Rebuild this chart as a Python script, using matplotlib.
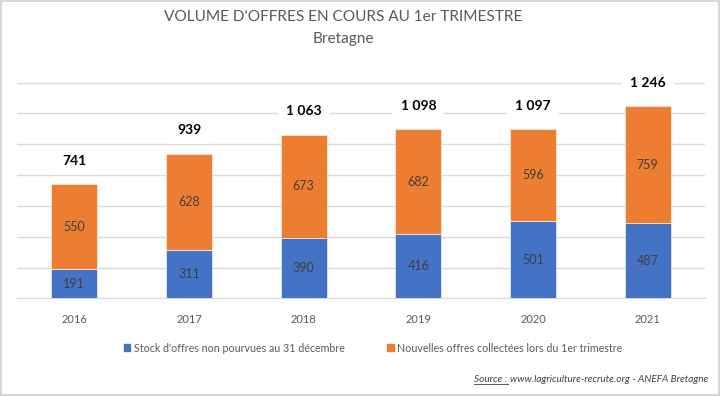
import matplotlib
matplotlib.use("Agg")
import matplotlib.pyplot as plt
from matplotlib.patches import Rectangle
from matplotlib.lines import Line2D

plt.rcParams['font.family'] = ['Lato', 'DejaVu Sans']

years = ["2016", "2017", "2018", "2019", "2020", "2021"]
stock = [191, 311, 390, 416, 501, 487]
nouvelles = [550, 628, 673, 682, 596, 759]
totals = [s + n for s, n in zip(stock, nouvelles)]

title = "VOLUME D'OFFRES EN COURS AU 1er TRIMESTRE"
subtitle = "Bretagne"
legend_labels = ["Stock d'offres non pourvues au 31 décembre",
                 "Nouvelles offres collectées lors du 1er trimestre"]

BLUE = "#4472C4"
ORANGE = "#ED7D31"

fig = plt.figure(figsize=(7.2, 3.96), dpi=100)
ax = fig.add_axes([17/720, 1-298.3/396, (705-17)/720, (298.3-82.7)/396])

x = list(range(len(years)))
b1 = ax.bar(x, stock, width=0.4, color=BLUE, edgecolor='white', linewidth=0.4, zorder=3)
b2 = ax.bar(x, nouvelles, width=0.4, bottom=stock, color=ORANGE, edgecolor='white', linewidth=0.4, zorder=3)

ax.bar_label(b1, labels=[str(v) for v in stock], label_type='center', color='#404040', fontsize=9)
ax.bar_label(b2, labels=[str(v) for v in nouvelles], label_type='center', color='#404040', fontsize=9)

for xi, t in zip(x, totals):
    ax.annotate(f"{t:,}".replace(",", "\u00a0"), (xi, t), xytext=(0, 17), textcoords='offset points',
                ha='center', va='center', fontsize=10, fontweight='bold', color='black',
                bbox=dict(boxstyle='square,pad=0.6', fc='white', ec='none'), zorder=4)

ax.set_ylim(0, 1400)
ax.set_xlim(-0.5, 5.5)
ax.set_yticks(range(0, 1401, 200))
ax.yaxis.grid(True, color='#D9D9D9', linewidth=1, zorder=0)
ax.tick_params(axis='y', left=False, labelleft=False)
ax.tick_params(axis='x', bottom=False, labelsize=8, labelcolor='#595959', pad=8)
ax.set_xticks(x)
ax.set_xticklabels(years)
for s in ['top', 'right', 'left']:
    ax.spines[s].set_visible(False)
ax.spines['bottom'].set_color('#D9D9D9')
ax.set_axisbelow(True)

fig.text(343/720, 1-17/396, title, ha='center', va='center', fontsize=11.1, color='#595959')
fig.text(343/720, 1-39/396, subtitle, ha='center', va='center', fontsize=11.1, color='#595959')

handles = [Rectangle((0, 0), 1, 1, color=BLUE), Rectangle((0, 0), 1, 1, color=ORANGE)]
fig.legend(handles, legend_labels, loc='center', bbox_to_anchor=(373/720, 1-348/396), ncol=2,
           frameon=False, fontsize=7.7, handlelength=0.6, handleheight=0.6, handletextpad=0.3,
           columnspacing=4.0, labelcolor='#595959')

t1 = fig.text(708/720, 1-380/396, "www.lagriculture-recrute.org - ANEFA Bretagne", ha='right', va='center',
              fontsize=7.2, style='italic', color='#404040')
fig.canvas.draw()
r = fig.canvas.get_renderer()
bb = t1.get_window_extent(r)
t0 = fig.text(bb.x0 / 720 - 0.003, 1-380/396, "Source :", ha='right', va='center',
              fontsize=7.2, style='italic', color='#404040')
fig.canvas.draw()
bb0 = t0.get_window_extent(r)
fig.add_artist(Line2D([bb0.x0/720, bb0.x1/720], [(bb0.y0+1)/396]*2, color='#404040', linewidth=0.6))

fig.add_artist(Rectangle((0.002, 0.003), 0.996, 0.994, transform=fig.transFigure, fill=False,
                         edgecolor='#D0D0D0', linewidth=1.2))

fig.savefig("out.png", dpi=100)
